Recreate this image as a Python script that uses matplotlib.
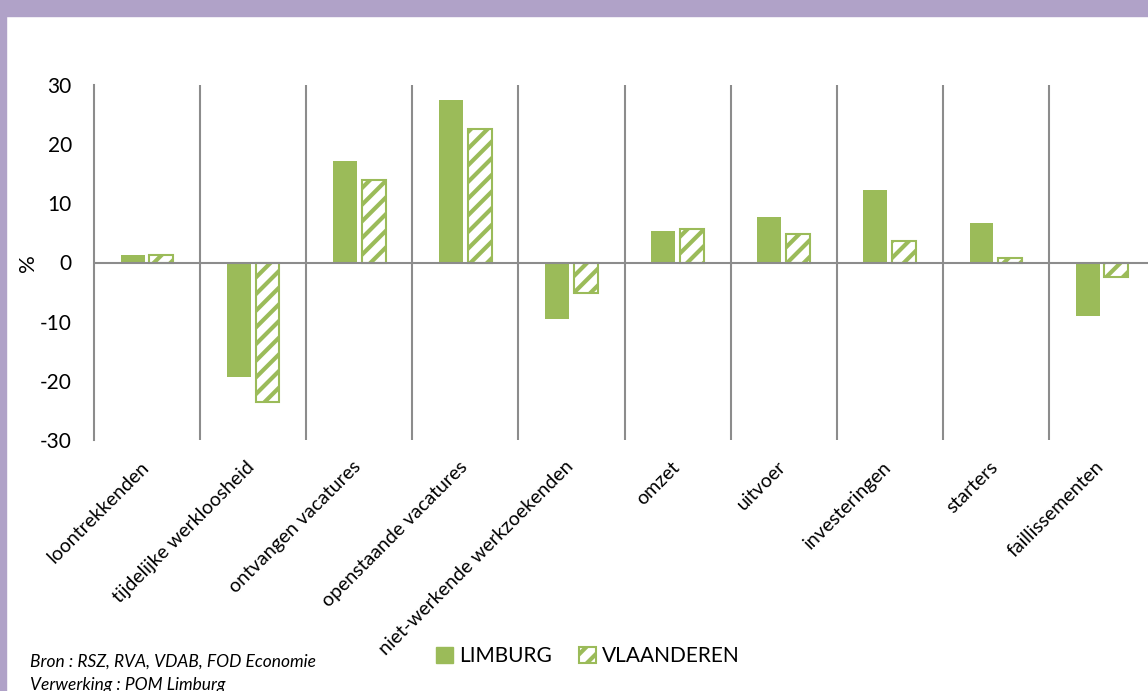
import numpy as np
import matplotlib
matplotlib.use("Agg")
import matplotlib.pyplot as plt
from matplotlib.patches import Rectangle, Patch
from matplotlib.transforms import ScaledTranslation

plt.rcParams['font.family'] = ['Lato', 'DejaVu Sans']
plt.rcParams['hatch.linewidth'] = 3.0

categories = ["loontrekkenden", "tijdelijke werkloosheid", "ontvangen vacatures",
              "openstaande vacatures", "niet-werkende werkzoekenden", "omzet",
              "uitvoer", "investeringen", "starters", "faillissementen"]
limburg = [1.2, -19.4, 17.2, 27.4, -9.6, 5.4, 7.7, 12.3, 6.6, -9.1]
vlaanderen = [1.3, -23.6, 14.0, 22.6, -5.2, 5.6, 4.8, 3.7, 0.7, -2.5]
yticks = [-30, -20, -10, 0, 10, 20, 30]

green = "#9BBB59"
grey = "#8C8C8C"
purple = "#B0A2C8"

W, H = 1148, 691
fig = plt.figure(figsize=(W / 100, H / 100), dpi=100)

# purple frame (top + left)
fig.patches.append(Rectangle((0, 1 - 16 / H), 1, 16 / H, transform=fig.transFigure,
                             color=purple, zorder=0))
fig.patches.append(Rectangle((0, 0), 6 / W, 1, transform=fig.transFigure,
                             color=purple, zorder=0))

left, right = 94, 1155
top, bottom = 85, 440
ax = fig.add_axes([left / W, 1 - bottom / H, (right - left) / W, (bottom - top) / H])

x = np.arange(len(categories))
bw = 0.225
ax.bar(x - 0.135, limburg, bw, color=green, zorder=3)
ax.bar(x + 0.135, vlaanderen, bw, facecolor="white", edgecolor=green,
       hatch="//", linewidth=1.5, zorder=3)

ax.set_xlim(-0.5, len(categories) - 0.5)
ax.set_ylim(-30, 30)
ax.set_yticks(yticks)
ax.set_yticklabels([str(v) for v in yticks], fontsize=15)
ax.tick_params(axis='y', length=0, pad=16)

for b in np.arange(0.5, len(categories) - 0.5, 1.0):
    ax.axvline(b, color=grey, linewidth=1.5, zorder=1)
ax.axhline(0, color=grey, linewidth=1.5, zorder=4)

for s in ["top", "right", "bottom"]:
    ax.spines[s].set_visible(False)
ax.spines["left"].set_color(grey)
ax.spines["left"].set_linewidth(1.5)

ax.set_xticks(x)
ax.set_xticklabels(categories, rotation=45, ha="right", rotation_mode="anchor",
                   fontsize=14)
ax.tick_params(axis='x', length=0, pad=13)
shift = ScaledTranslation(-7 / 100, 0, fig.dpi_scale_trans)
for lbl in ax.get_xticklabels():
    lbl.set_transform(lbl.get_transform() + shift)

fig.text(28 / W, 1 - 263 / H, "%", fontsize=16, rotation=90, va="center", ha="center")

handles = [Patch(facecolor=green, edgecolor=green),
           Patch(facecolor="white", edgecolor=green, hatch="//", linewidth=1.5)]
fig.legend(handles, ["LIMBURG", "VLAANDEREN"], loc="center",
           bbox_to_anchor=(588 / W, 1 - 656 / H), ncol=2, frameon=False,
           fontsize=15, handlelength=0.8, handleheight=0.8, handletextpad=0.3,
           columnspacing=1.3)

fig.text(30 / W, 1 - 662 / H, "Bron : RSZ, RVA, VDAB, FOD Economie",
         fontsize=12.5, style="italic", va="center", ha="left")
fig.text(30 / W, 1 - 685 / H, "Verwerking : POM Limburg",
         fontsize=12.5, style="italic", va="center", ha="left")

fig.savefig("out.png", dpi=100)
